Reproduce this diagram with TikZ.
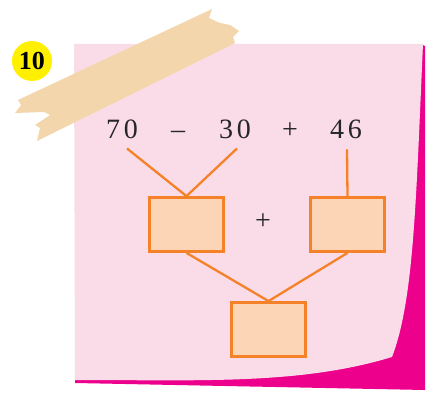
\documentclass[tikz,border=0pt]{standalone}
\usepackage{fontspec}
\setmainfont{Liberation Serif}
\definecolor{notepink}{RGB}{250,220,232}
\definecolor{curlpink}{RGB}{236,0,140}
\definecolor{tapebrown}{RGB}{244,214,172}
\definecolor{boxfill}{RGB}{252,212,182}
\definecolor{boxline}{RGB}{245,130,40}
\definecolor{badge}{RGB}{255,240,0}
\begin{document}
\begin{tikzpicture}[x=1pt, y=-1pt,
  numtext/.style={inner sep=0pt, anchor=base, font=\fontsize{28}{32}\selectfont, text=black!85},
  blank/.style={rectangle, draw=boxline, line width=2.8pt, fill=boxfill,
    minimum width=74pt, minimum height=54pt, inner sep=0pt},
  link/.style={draw=boxline, line width=2.3pt}
]
  \useasboundingbox (0,0) rectangle (426,396);

  % Sticky note with curled corner
  \fill[curlpink] (420,44) -- (425,46) -- (425,390) -- (75,383) -- (75,378) -- cycle;
  \fill[notepink] (74,44) -- (423,44) .. controls (416,200) and (414,300) .. (392,357)
    .. controls (300,385) and (200,380) .. (75,380) -- cycle;

  % Tape
  \fill[tapebrown] (18,100) -- (212,9) -- (209,18) -- (220,23) -- (230,25)
    -- (239,31) -- (233,37) -- (235,43) -- (37,141) -- (40,128) -- (35,125) -- (50,115)
    -- (44,112) -- (15,113) -- (21,105) -- cycle;

  % Exercise number
  \node[circle, fill=badge, minimum size=40pt, inner sep=0pt,
    font=\fontsize{26}{30}\selectfont\bfseries] (num) at (32,61) {10};

  % Expression
  \node[numtext] (n70) at (122,139) {7\kern4pt0};
  \node[numtext] (m1) at (178,139) {--};
  \node[numtext] (n30) at (235,139) {3\kern4pt0};
  \node[numtext] (p1) at (290,139) {+};
  \node[numtext] (n46) at (346,139) {4\kern4pt6};

  % Answer boxes
  \node[blank] (b1) at (186.5,224.5) {};
  \node[blank] (b2) at (347.5,224.5) {};
  \node[blank] (b3) at (268.5,329.5) {};
  \node[font=\fontsize{28}{32}\selectfont, text=black!85] (p2) at (263,222) {+};

  % Connectors
  \draw[link] ([xshift=5pt,yshift=-9pt]n70.south) -- (b1.north);
  \draw[link] ([xshift=2pt,yshift=-9pt]n30.south) -- (b1.north);
  \draw[link] ([xshift=1pt,yshift=-10pt]n46.south) -- (b2.north);
  \draw[link] (b1.south) -- (b3.north);
  \draw[link] (b2.south) -- (b3.north);
\end{tikzpicture}
\end{document}
